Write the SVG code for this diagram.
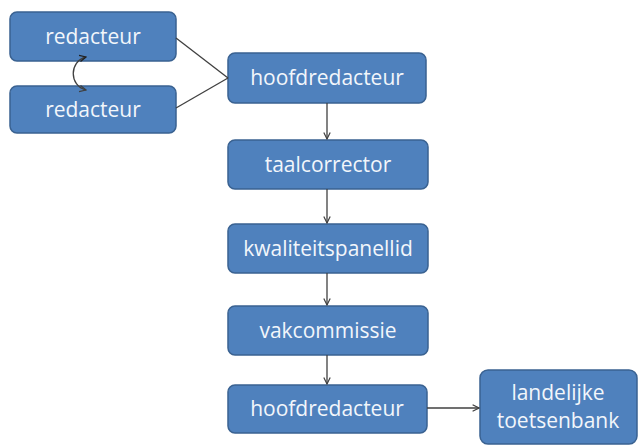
<svg xmlns="http://www.w3.org/2000/svg" width="640" height="446" viewBox="0 0 640 446">
<style>
.box{fill:#4f81bd;stroke:#3a6291;stroke-width:1.5}
.lbl{font-family:"Open Sans","Liberation Sans",sans-serif;font-size:21px;fill:#f2f6fb;text-anchor:middle}
.con{fill:none;stroke:#404040;stroke-width:1.3}
</style>
<defs>
<marker id="ah" viewBox="0 0 10 10" refX="9" refY="5" markerWidth="8" markerHeight="8" markerUnits="userSpaceOnUse" orient="auto">
<path d="M1 1 L9 5 L1 9" fill="none" stroke="#404040" stroke-width="1.5"/>
</marker>
<marker id="ahs" viewBox="0 0 10 10" refX="1" refY="5" markerWidth="8" markerHeight="8" markerUnits="userSpaceOnUse" orient="auto">
<path d="M9 1 L1 5 L9 9" fill="none" stroke="#202020" stroke-width="1.5"/>
</marker>
</defs>
<rect width="640" height="446" fill="#ffffff"/>
<g id="redacteur1"><rect class="box" x="10" y="12" width="166" height="49" rx="7"/><text class="lbl" x="93" y="44">redacteur</text></g>
<g id="redacteur2"><rect class="box" x="10" y="86" width="166" height="47" rx="7"/><text class="lbl" x="93" y="117">redacteur</text></g>
<g id="hoofdredacteur1"><rect class="box" x="228" y="53" width="198" height="50" rx="7"/><text class="lbl" x="327" y="85">hoofdredacteur</text></g>
<g id="taalcorrector"><rect class="box" x="228" y="140" width="200" height="49" rx="7"/><text class="lbl" x="328" y="172">taalcorrector</text></g>
<g id="kwaliteitspanellid"><rect class="box" x="228" y="224" width="200" height="49" rx="7"/><text class="lbl" x="328" y="256">kwaliteitspanellid</text></g>
<g id="vakcommissie"><rect class="box" x="228" y="306" width="200" height="49" rx="7"/><text class="lbl" x="328" y="338">vakcommissie</text></g>
<g id="hoofdredacteur2"><rect class="box" x="228" y="385" width="199" height="48" rx="7"/><text class="lbl" x="327" y="416">hoofdredacteur</text></g>
<g id="landelijke_toetsenbank"><rect class="box" x="480" y="370" width="157" height="74" rx="8"/><text class="lbl" x="558" y="400">landelijke</text><text class="lbl" x="558" y="428">toetsenbank</text></g>
<g id="connectors">
<path class="con" d="M176 38 L228 78"/>
<path class="con" d="M176 108 L228 78"/>
<path class="con" d="M86 57 C69 61 69 86 86 90" stroke="#202020" stroke-width="1.5" marker-start="url(#ahs)" marker-end="url(#ah)"/>
<path class="con" d="M327 103 L327 139" marker-end="url(#ah)"/>
<path class="con" d="M327 189 L327 223" marker-end="url(#ah)"/>
<path class="con" d="M327 273 L327 305" marker-end="url(#ah)"/>
<path class="con" d="M327 355 L327 384" marker-end="url(#ah)"/>
<path class="con" d="M427 408 L479 408" marker-end="url(#ah)"/>
</g>
</svg>
